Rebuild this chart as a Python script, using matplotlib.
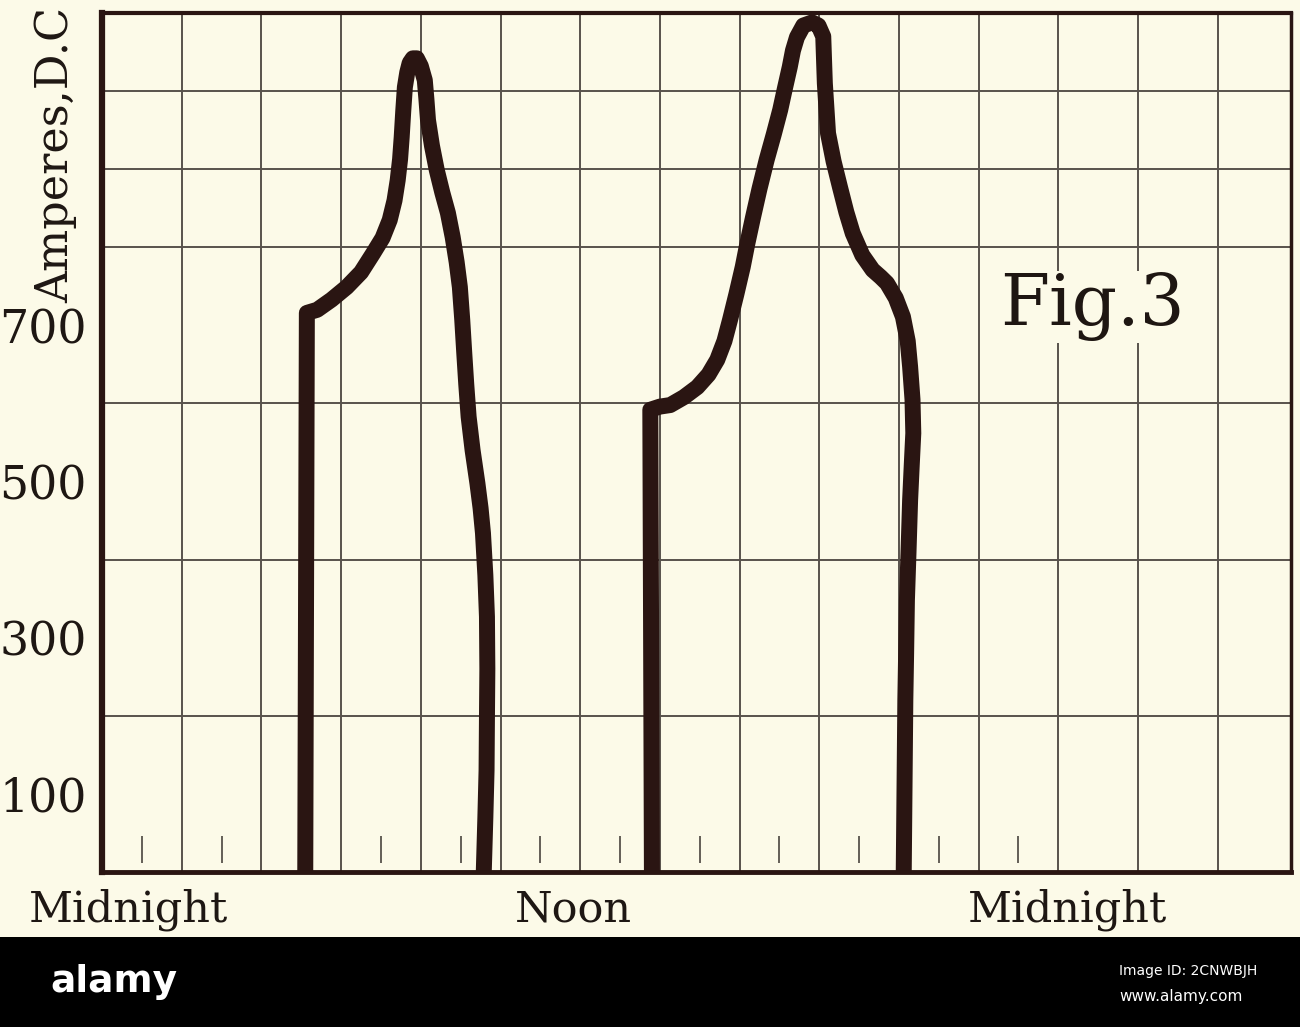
import numpy as np
import matplotlib.pyplot as plt
from matplotlib.patches import Rectangle

# load curves, x in grid cells from the left edge, y in amperes
hours_1 = [2.55, 2.57, 2.70, 2.88, 3.07, 3.25, 3.40, 3.52, 3.61, 3.67, 3.71, 3.74, 3.76, 3.78,
           3.80, 3.83, 3.86, 3.90, 3.95, 4.00, 4.05, 4.07, 4.09, 4.14, 4.20, 4.27, 4.34, 4.40,
           4.45, 4.49, 4.52, 4.545, 4.57, 4.60, 4.65, 4.71, 4.75, 4.78, 4.81, 4.83, 4.835, 4.83,
           4.825, 4.81, 4.79]
amps_1 = [0, 716, 720, 733, 749, 768, 792, 812, 835, 860, 886, 913, 941, 975,
          1005, 1024, 1036, 1042, 1042, 1032, 1014, 990, 963, 930, 899, 870, 844, 813,
          781, 749, 707, 665, 625, 583, 540, 498, 466, 434, 380, 327, 260, 198,
          130, 70, 0]

hours_2 = [6.90, 6.88, 7.00, 7.13, 7.30, 7.47, 7.61, 7.72, 7.81, 7.88, 7.96, 8.04, 8.10, 8.17,
           8.25, 8.34, 8.43, 8.51, 8.57, 8.63, 8.67, 8.72, 8.80, 8.91, 8.99, 9.05, 9.06, 9.07,
           9.09, 9.11, 9.18, 9.26, 9.34, 9.42, 9.54, 9.67, 9.77, 9.85, 9.96, 10.05, 10.11, 10.14,
           10.17, 10.18, 10.16, 10.14, 10.12, 10.10, 10.09, 10.08, 10.07, 10.06]
amps_2 = [0, 592, 596, 598, 608, 621, 637, 656, 680, 707, 740, 775, 806, 839,
          875, 912, 945, 976, 1004, 1031, 1052, 1069, 1084, 1088, 1084, 1070, 1040, 1010,
          978, 946, 910, 877, 845, 818, 790, 771, 762, 754, 735, 711, 680, 647,
          605, 562, 520, 476, 410, 348, 280, 220, 110, 0]

y_tick_values = [100, 300, 500, 700]
y_tick_labels = ["100", "300", "500", "700"]
x_label_pos = [0.33, 5.92, 12.12]
x_labels = ["Midnight", "Noon", "Midnight"]
hour_marks = [0.5, 1.5, 2.5, 3.5, 4.5, 5.5, 6.5, 7.5, 8.5, 9.5, 10.5, 11.5]

paper = "#fcfae8"
ink = "#2a1512"
grid_col = "#58524b"
serif = "DejaVu Serif"

fig = plt.figure(figsize=(13, 10.27), dpi=100)
fig.patch.set_facecolor(paper)
ax = fig.add_axes([0.0785, 0.1509, 0.9146, 0.8364])
ax.set_facecolor(paper)

ax.set_xlim(0, 14.92)
ax.set_ylim(0, 1100)

# grid paper
ax.set_xticks(np.arange(1, 15), minor=True)
ax.set_yticks(np.arange(100, 1100, 100), minor=True)
ax.grid(which="minor", color=grid_col, lw=1.4, zorder=1)
ax.tick_params(which="minor", length=0)
ax.vlines(hour_marks, 12, 46, color=grid_col, lw=1.3, zorder=1)

ax.plot(hours_1, amps_1, color=ink, lw=11.5, solid_joinstyle="round", solid_capstyle="butt", zorder=3)
ax.plot(hours_2, amps_2, color=ink, lw=11.5, solid_joinstyle="round", solid_capstyle="butt", zorder=3)

ax.set_yticks(y_tick_values)
ax.set_yticklabels(y_tick_labels, fontsize=33, family=serif, color="#1e1713")
ax.set_xticks(x_label_pos)
ax.set_xticklabels(x_labels, fontsize=31, family=serif, color="#1e1713")
ax.tick_params(axis="y", length=0, pad=11)
ax.tick_params(axis="x", length=0, pad=12)

for side, w in [("left", 4.5), ("bottom", 3.5), ("top", 3.0), ("right", 2.5)]:
    ax.spines[side].set_color(ink)
    ax.spines[side].set_linewidth(w)
    ax.spines[side].set_zorder(4)

ax.text(11.27, 700, "Fig.3", fontsize=51, family=serif, color="#1e1612",
        ha="left", va="baseline", zorder=2,
        bbox=dict(facecolor=paper, edgecolor="none", pad=1))

fig.text(0.043, 0.705, "Amperes,D.C", rotation=90, fontsize=32, family=serif,
         color="#1e1713", ha="center", va="bottom")

# stock photo strip along the bottom
fig.patches.append(Rectangle((0, 0), 1, 90 / 1027, transform=fig.transFigure,
                             facecolor="black", edgecolor="none", zorder=5))
fig.text(50 / 1300, 1 - 982 / 1027, "alamy", color="white", fontsize=27, fontweight="bold",
         family=["Liberation Sans Narrow", "DejaVu Sans"], ha="left", va="center", zorder=6)
fig.text(1119 / 1300, 1 - 971 / 1027, "Image ID: 2CNWBJH", color="white", fontsize=10,
         family=["Liberation Sans Narrow", "DejaVu Sans"], ha="left", va="center", zorder=6)
fig.text(1119 / 1300, 1 - 997 / 1027, "www.alamy.com", color="white", fontsize=11,
         family=["Liberation Sans Narrow", "DejaVu Sans"], ha="left", va="center", zorder=6)

fig.savefig("out.png", dpi=100, facecolor=fig.get_facecolor())
